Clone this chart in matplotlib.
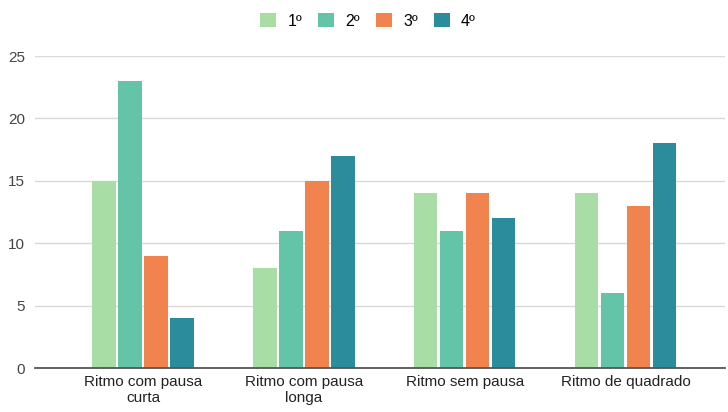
import numpy as np
import matplotlib.pyplot as plt
from matplotlib.patches import Patch

plt.rcParams['font.family'] = ['Liberation Sans', 'DejaVu Sans']

# Data
categories = ['Ritmo com pausa\ncurta', 'Ritmo com pausa\nlonga', 'Ritmo sem pausa', 'Ritmo de quadrado']
series_names = ['1º', '2º', '3º', '4º']
vals_1 = [15, 8, 14, 14]
vals_2 = [23, 11, 11, 6]
vals_3 = [9, 15, 14, 13]
vals_4 = [4, 17, 12, 18]
colors = ['#a8dea5', '#63c4a8', '#f0834e', '#2b8c9b']

fig = plt.figure(figsize=(7.28, 4.12), dpi=100)
ax = fig.add_axes([35 / 728, 44 / 412, 690 / 728, 312 / 412])

x = np.arange(len(categories))
slot = 0.1617
width = 0.147
all_vals = [vals_1, vals_2, vals_3, vals_4]
for i, (vals, col) in enumerate(zip(all_vals, colors)):
    ax.bar(x + (i - 1.5) * slot, vals, width, color=col, zorder=3)

ax.set_xlim(-0.6716, 3.619)
ax.set_ylim(0, 25)
ax.set_yticks([0, 5, 10, 15, 20, 25])
ax.set_xticks(x)
ax.set_xticklabels(categories, fontsize=11, color='#222222', linespacing=1.2)
ax.tick_params(axis='y', labelsize=11, colors='#444444', length=0, pad=7)
ax.tick_params(axis='x', length=0, pad=5)

ax.grid(axis='y', color='#d9d9d9', linewidth=1, zorder=0)
for s in ['top', 'right', 'left']:
    ax.spines[s].set_visible(False)
ax.spines['bottom'].set_color('#555555')
ax.spines['bottom'].set_linewidth(1.3)
ax.spines['bottom'].set_zorder(4)

handles = [Patch(facecolor=c, edgecolor='none') for c in colors]
fig.legend(handles, series_names, loc='center', bbox_to_anchor=(368 / 728, 1 - 21 / 412),
           ncol=4, frameon=False, fontsize=11.5, handlelength=1.0, handleheight=1.0,
           handletextpad=0.7, columnspacing=1.0)

fig.savefig('out.png', dpi=100)
